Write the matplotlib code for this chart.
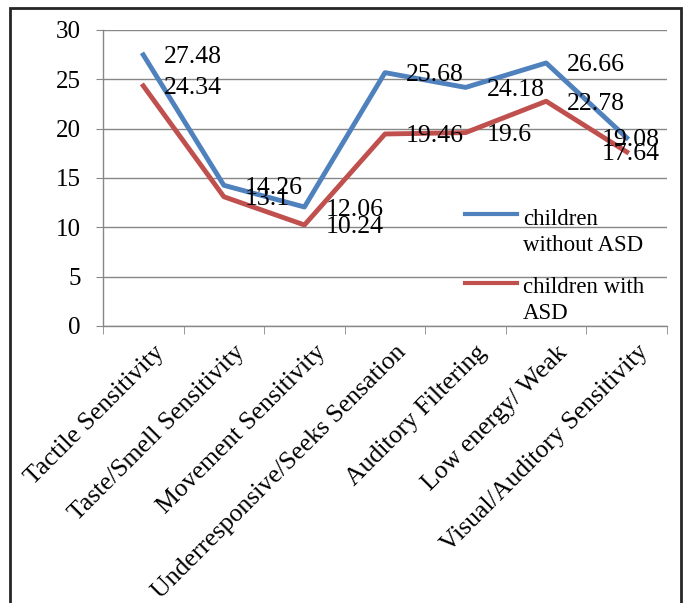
import matplotlib
matplotlib.use("Agg")
import matplotlib.pyplot as plt
import matplotlib.transforms as mtransforms
from matplotlib.patches import Rectangle
import numpy as np

categories = ["Tactile Sensitivity", "Taste/Smell Sensitivity", "Movement Sensitivity",
              "Underresponsive/Seeks Sensation", "Auditory Filtering", "Low energy/ Weak",
              "Visual/Auditory Sensitivity"]
without_asd = [27.48, 14.26, 12.06, 25.68, 24.18, 26.66, 19.08]
with_asd = [24.34, 13.1, 10.24, 19.46, 19.6, 22.78, 17.64]
series_names = ["children\nwithout ASD", "children with\nASD"]

plt.rcParams['font.family'] = ['Liberation Serif', 'DejaVu Serif']

blue = '#4F81BD'
red = '#C0504D'
gray = '#878787'

fig = plt.figure(figsize=(6.83, 6.03), dpi=100)
ax = fig.add_axes([103/683, 277/603, 564/683, 296/603])

x = np.arange(len(categories))
ax.plot(x, without_asd, color=blue, lw=3.5, solid_joinstyle='round', zorder=3)
ax.plot(x, with_asd, color=red, lw=3.5, solid_joinstyle='round', zorder=3)

ax.set_xlim(-0.5, len(categories) - 0.5)
ax.set_ylim(0, 30)
ax.set_yticks(range(0, 31, 5))
ax.yaxis.grid(True, color=gray, lw=1.0)
ax.set_axisbelow(True)
for s in ['top', 'right']:
    ax.spines[s].set_visible(False)
for s in ['left', 'bottom']:
    ax.spines[s].set_color(gray)
    ax.spines[s].set_linewidth(1.0)

ax.tick_params(axis='y', direction='out', length=5, color=gray, labelsize=18, pad=11)
ax.set_xticks(x)
ax.set_xticklabels(categories, rotation=45, ha='right', va='top', rotation_mode='anchor', fontsize=18.5)
ax.set_xticks(np.arange(len(categories) + 1) - 0.5, minor=True)
ax.tick_params(axis='x', which='major', length=0, pad=11)
ax.tick_params(axis='x', which='minor', direction='out', length=6, color=gray)
shift = mtransforms.ScaledTranslation(0.10, 0, fig.dpi_scale_trans)
for lab in ax.get_xticklabels():
    lab.set_transform(lab.get_transform() + shift)

# data labels to the right of each point (last one pulled back inside)
last = len(categories) - 1
for vals in (without_asd, with_asd):
    for i, v in enumerate(vals):
        dx = 15 if i < last else -18
        ax.annotate(f"{v:g}", (i, v), xytext=(dx, 0), textcoords='offset points',
                    ha='left', va='center_baseline', fontsize=18.5, zorder=4)

# legend drawn by hand so the handle sits on the first text line
for (ly, ty), name, col in zip([(0.378, 0.395), (0.145, 0.165)], series_names, [blue, red]):
    ax.plot([0.642, 0.734], [ly, ly], transform=ax.transAxes, color=col, lw=3, clip_on=False, zorder=5)
    ax.text(0.745, ty, name, transform=ax.transAxes, ha='left', va='top',
            fontsize=16.5, linespacing=1.3, zorder=5)

fig.patches.append(Rectangle((10/683, -0.05), 671/683, 595/603 + 0.05, transform=fig.transFigure,
                             fill=False, ec='#262626', lw=2))

fig.savefig("out.png", dpi=100)
